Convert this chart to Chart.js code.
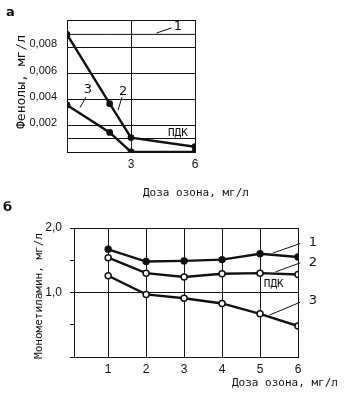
<!DOCTYPE html>
<html>
<head>
<meta charset="utf-8">
<script src="https://cdn.jsdelivr.net/npm/chart.js@4.4.1/dist/chart.umd.min.js"></script>
<style>
    body { margin: 0; background: #fff; }
    #wrap { position: relative; width: 349px; height: 395px; overflow: hidden; }
    canvas { position: absolute; left: 0; }
    .txt { position: absolute; color: #111; white-space: nowrap; font-family: "DejaVu Sans Mono", monospace; font-size: 11px; }
    .rot { transform: translate(-50%, -50%) rotate(-90deg); }
    .panel { font-family: "DejaVu Sans", sans-serif; font-weight: bold; font-size: 13px; }
</style>
</head>
<body>
<div id="wrap">
    <canvas id="graficoA" width="349" height="200" style="top:0"></canvas>
    <canvas id="graficoB" width="349" height="195" style="top:200px"></canvas>

    <div class="txt panel" style="left:6px; top:4px;">а</div>
    <div class="txt rot" style="left:20px; top:82px; font-size:13px;">Фенолы, мг/л</div>
    <div class="txt" style="left:143px; top:186px;">Доза озона, мг/л</div>

    <div class="txt panel" style="left:3px; top:199px;">б</div>
    <div class="txt rot" style="left:38px; top:296px;">Монометиламин, мг/л</div>
    <div class="txt" style="left:232px; top:376px;">Доза озона, мг/л</div>
</div>

<script>
// ---- chart а: фенолы ----
const dozaA = [0, 2, 3, 6];
const curva1A = [0.009, 0.009, 0.009, 0.009];
const curva2A = [0.009, 0.0037, 0.0011, 0.0004];
const curva3A = [0.0036, 0.0015, 0, 0];
const yTicksA = [0, 0.001, 0.002, 0.004, 0.006, 0.008, 0.0101];
const yLabelsA = [0.002, 0.004, 0.006, 0.008];
const xTicksA = [0, 3, 6];
const pdkA = 0.001;

// ---- chart б: монометиламин ----
const dozaB = [1, 2, 3, 4, 5, 6];
const curva1B = [1.67, 1.48, 1.49, 1.51, 1.60, 1.55];
const curva2B = [1.54, 1.30, 1.24, 1.29, 1.30, 1.28];
const curva3B = [1.26, 0.97, 0.91, 0.83, 0.67, 0.48];
const yTicksB = [0, 0.5, 1.0, 1.5, 2.0];
const yLabelsB = [1.0, 2.0];
const xTicksB = [0.1, 1, 2, 3, 4, 5, 6];
const pdkB = 1.0;

const preto = '#111';

function pontos(xs, ys) {
    return xs.map((x, i) => ({ x: x, y: ys[i] }));
}

// rótulos das curvas com linha de chamada (coordenadas em unidades dos eixos)
const rotulosPlugin = {
    id: 'rotulos',
    afterDatasetsDraw(chart, args, opts) {
        const ctx = chart.ctx;
        const sx = chart.scales.x, sy = chart.scales.y;
        ctx.save();
        ctx.fillStyle = preto;
        ctx.strokeStyle = preto;
        ctx.lineWidth = 1;
        ctx.textAlign = 'center';
        ctx.textBaseline = 'middle';
        (opts.itens || []).forEach(item => {
            if (item.de) {
                ctx.beginPath();
                ctx.moveTo(sx.getPixelForValue(item.de[0]), sy.getPixelForValue(item.de[1]));
                ctx.lineTo(sx.getPixelForValue(item.ate[0]), sy.getPixelForValue(item.ate[1]));
                ctx.stroke();
            }
            ctx.font = item.fonte || '13px "DejaVu Sans"';
            ctx.fillText(item.texto, sx.getPixelForValue(item.x), sy.getPixelForValue(item.y));
        });
        ctx.restore();
    }
};

const ctxA = document.getElementById('graficoA').getContext('2d');
const graficoA = new Chart(ctxA, {
    type: 'line',
    data: {
        datasets: [
            { data: pontos(dozaA, curva1A), borderColor: preto, borderWidth: 1, pointRadius: 0 },
            { data: pontos(dozaA, curva2A), borderColor: preto, borderWidth: 2.4, pointRadius: 2.2, pointBackgroundColor: preto, pointBorderColor: preto },
            { data: pontos(dozaA, curva3A), borderColor: preto, borderWidth: 2.4, pointRadius: 2.2, pointBackgroundColor: preto, pointBorderColor: preto }
        ]
    },
    options: {
        responsive: false,
        animation: false,
        layout: { padding: { top: 20, right: 154, left: 0, bottom: 0 } },
        plugins: {
            legend: { display: false },
            tooltip: { enabled: false },
            rotulos: {
                itens: [
                    { texto: '1', x: 5.2, y: 0.0096, de: [4.2, 0.0091], ate: [4.9, 0.0095] },
                    { texto: '2', x: 2.63, y: 0.0046, de: [2.39, 0.0032], ate: [2.58, 0.0042] },
                    { texto: '3', x: 0.98, y: 0.0048, de: [0.61, 0.0034], ate: [0.89, 0.0042] },
                    { texto: 'ПДК', x: 5.2, y: 0.00145, fonte: '11px "DejaVu Sans Mono"' }
                ]
            }
        },
        scales: {
            x: {
                type: 'linear',
                min: 0,
                max: 6,
                afterBuildTicks: s => { s.ticks = xTicksA.map(v => ({ value: v })); },
                afterFit: s => { s.height = 48; },
                grid: { color: preto, lineWidth: 1, drawTicks: false },
                border: { color: preto, width: 1 },
                ticks: {
                    color: preto,
                    padding: 5,
                    font: { family: 'Liberation Sans', size: 12 },
                    callback: v => (v === 0 ? '' : String(v))
                }
            },
            y: {
                min: 0,
                max: 0.0101,
                afterBuildTicks: s => { s.ticks = yTicksA.map(v => ({ value: v })); },
                afterFit: s => { s.width = 67; },
                grid: { color: preto, lineWidth: 1, drawTicks: false },
                border: { color: preto, width: 1 },
                ticks: {
                    color: preto,
                    padding: 10,
                    labelOffset: -3,
                    font: { family: 'Liberation Sans', size: 11 },
                    callback: v => (yLabelsA.includes(v) ? v.toFixed(3).replace('.', ',') : '')
                }
            }
        }
    },
    plugins: [rotulosPlugin]
});

const ctxB = document.getElementById('graficoB').getContext('2d');
const graficoB = new Chart(ctxB, {
    type: 'line',
    data: {
        datasets: [
            { data: pontos(dozaB, curva1B), borderColor: preto, borderWidth: 2.4, pointRadius: 2.5, pointBackgroundColor: preto, pointBorderColor: preto },
            { data: pontos(dozaB, curva2B), borderColor: preto, borderWidth: 2.4, pointRadius: 3, pointBorderWidth: 1.5, pointBackgroundColor: '#fff', pointBorderColor: preto },
            { data: pontos(dozaB, curva3B), borderColor: preto, borderWidth: 2.4, pointRadius: 3, pointBorderWidth: 1.5, pointBackgroundColor: '#fff', pointBorderColor: preto }
        ]
    },
    options: {
        responsive: false,
        animation: false,
        layout: { padding: { top: 28, right: 51, left: 0, bottom: 0 } },
        plugins: {
            legend: { display: false },
            tooltip: { enabled: false },
            rotulos: {
                itens: [
                    { texto: '1', x: 6.39, y: 1.78, de: [5.33, 1.61], ate: [6.06, 1.76] },
                    { texto: '2', x: 6.39, y: 1.47, de: [5.41, 1.32], ate: [6.06, 1.46] },
                    { texto: '3', x: 6.39, y: 0.88, de: [5.25, 0.65], ate: [6.06, 0.85] },
                    { texto: 'ПДК', x: 5.36, y: 1.13, fonte: '11px "DejaVu Sans Mono"' }
                ]
            }
        },
        scales: {
            x: {
                type: 'linear',
                min: 0.1,
                max: 6,
                afterBuildTicks: s => { s.ticks = xTicksB.map(v => ({ value: v })); },
                afterFit: s => { s.height = 38; },
                grid: { color: preto, lineWidth: 1, drawTicks: false },
                border: { color: preto, width: 1 },
                ticks: {
                    color: preto,
                    padding: 5,
                    font: { family: 'Liberation Sans', size: 12 },
                    callback: v => (Number.isInteger(v) ? String(v) : '')
                }
            },
            y: {
                min: 0,
                max: 2,
                afterBuildTicks: s => { s.ticks = yTicksB.map(v => ({ value: v })); },
                afterFit: s => { s.width = 74; },
                grid: {
                    color: c => (c.tick && (c.tick.value === pdkB || c.tick.value === 2) ? preto : 'rgba(0,0,0,0)'),
                    tickColor: preto,
                    tickLength: 4,
                    lineWidth: 1
                },
                border: { color: preto, width: 1 },
                ticks: {
                    color: preto,
                    padding: 8,
                    font: { family: 'Liberation Sans', size: 12 },
                    callback: v => (yLabelsB.includes(v) ? v.toFixed(1).replace('.', ',') : '')
                }
            }
        }
    },
    plugins: [rotulosPlugin]
});
</script>
</body>
</html>
